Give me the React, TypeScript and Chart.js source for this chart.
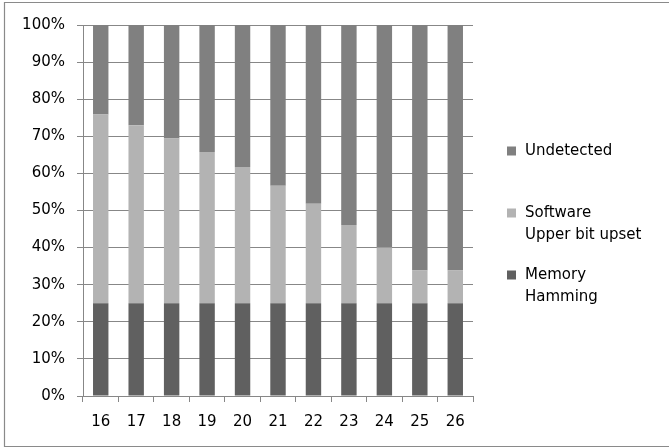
import React, { useEffect, useRef } from "react";
import { Chart, registerables } from "chart.js";

Chart.register(...registerables);

// Word lengths on the horizontal axis
const categories = ["16", "17", "18", "19", "20", "21", "22", "23", "24", "25", "26"];

// Share of faults (percent) per detection mechanism, stacked bottom to top
const memoryHamming = [25, 25, 25, 25, 25, 25, 25, 25, 25, 25, 25];
const softwareUpperBit = [50.9, 48.0, 44.4, 40.8, 36.7, 31.7, 26.8, 21.1, 15.0, 8.8, 8.8];
const undetected = [24.1, 27.0, 30.6, 34.2, 38.3, 43.3, 48.2, 53.9, 60.0, 66.2, 66.2];

const seriesLabels = ["Memory\nHamming", "Software\nUpper bit upset", "Undetected"];
const seriesColors = ["#606060", "#b3b3b3", "#808080"];

const yTicks = [0, 10, 20, 30, 40, 50, 60, 70, 80, 90, 100];

const FONT = "'DejaVu Sans', sans-serif";
const GRID = "#878787";

// Frame around the chart (open on the right side)
const framePlugin = {
  id: "frame",
  afterDraw(chart: Chart) {
    const { ctx, width, height } = chart;
    ctx.save();
    ctx.strokeStyle = "#8a8a8a";
    ctx.lineWidth = 1.2;
    ctx.beginPath();
    ctx.moveTo(width, 2.5);
    ctx.lineTo(4.5, 2.5);
    ctx.lineTo(4.5, height - 1.5);
    ctx.lineTo(width, height - 1.5);
    ctx.stroke();
    ctx.restore();
  },
};

// Legend on the right, top series first, multi-line labels
const sideLegendPlugin = {
  id: "sideLegend",
  afterDraw(chart: Chart) {
    const { ctx, chartArea } = chart;
    const datasets = chart.data.datasets.slice().reverse();
    const x = chartArea.right + 34;
    const startY = chartArea.top + 126;
    const entryGap = 62;
    const lineGap = 22;
    ctx.save();
    ctx.font = `15px ${FONT}`;
    ctx.textBaseline = "middle";
    ctx.textAlign = "left";
    datasets.forEach((ds, i) => {
      const y = startY + i * entryGap;
      ctx.fillStyle = ds.backgroundColor as string;
      ctx.fillRect(x, y - 4.5, 9, 9);
      ctx.fillStyle = "#000";
      String(ds.label)
        .split("\n")
        .forEach((line, j) => ctx.fillText(line, x + 18, y + j * lineGap));
    });
    ctx.restore();
  },
};

export default function App() {
  const canvasRef = useRef<HTMLCanvasElement | null>(null);

  useEffect(() => {
    document.body.style.margin = "0";
    const canvas = canvasRef.current;
    if (!canvas) return;

    const seriesValues = [memoryHamming, softwareUpperBit, undetected];

    const chart = new Chart(canvas, {
      type: "bar",
      data: {
        labels: categories,
        datasets: seriesValues.map((values, i) => ({
          label: seriesLabels[i],
          data: values,
          backgroundColor: seriesColors[i],
          borderWidth: 0,
          barPercentage: 0.435,
          categoryPercentage: 1,
        })),
      },
      options: {
        responsive: false,
        animation: false,
        devicePixelRatio: 1,
        layout: { padding: { left: 0, top: 25, right: 196, bottom: 0 } },
        plugins: {
          legend: { display: false },
          tooltip: { enabled: false },
        },
        scales: {
          x: {
            stacked: true,
            afterFit: (scale: any) => {
              scale.height = 52;
            },
            grid: {
              offset: true,
              drawOnChartArea: false,
              drawTicks: true,
              tickLength: 6,
              color: GRID,
            },
            border: { color: GRID },
            ticks: {
              color: "#000",
              font: { family: FONT, size: 15 },
              padding: 11,
              maxRotation: 0,
            },
          },
          y: {
            stacked: true,
            min: 0,
            max: 100,
            afterFit: (scale: any) => {
              scale.width = 83;
            },
            afterBuildTicks: (scale: any) => {
              scale.ticks = yTicks.map((v) => ({ value: v }));
            },
            grid: {
              color: GRID,
              drawTicks: true,
              tickLength: 6,
            },
            border: { color: GRID },
            ticks: {
              color: "#000",
              font: { family: FONT, size: 15 },
              padding: 12,
              callback: (v: any) => `${v}%`,
            },
          },
        },
      },
      plugins: [framePlugin, sideLegendPlugin],
    });

    return () => chart.destroy();
  }, []);

  return (
    <div style={{ width: 669, height: 448 }}>
      <canvas ref={canvasRef} width={669} height={448} style={{ display: "block" }} />
    </div>
  );
}
